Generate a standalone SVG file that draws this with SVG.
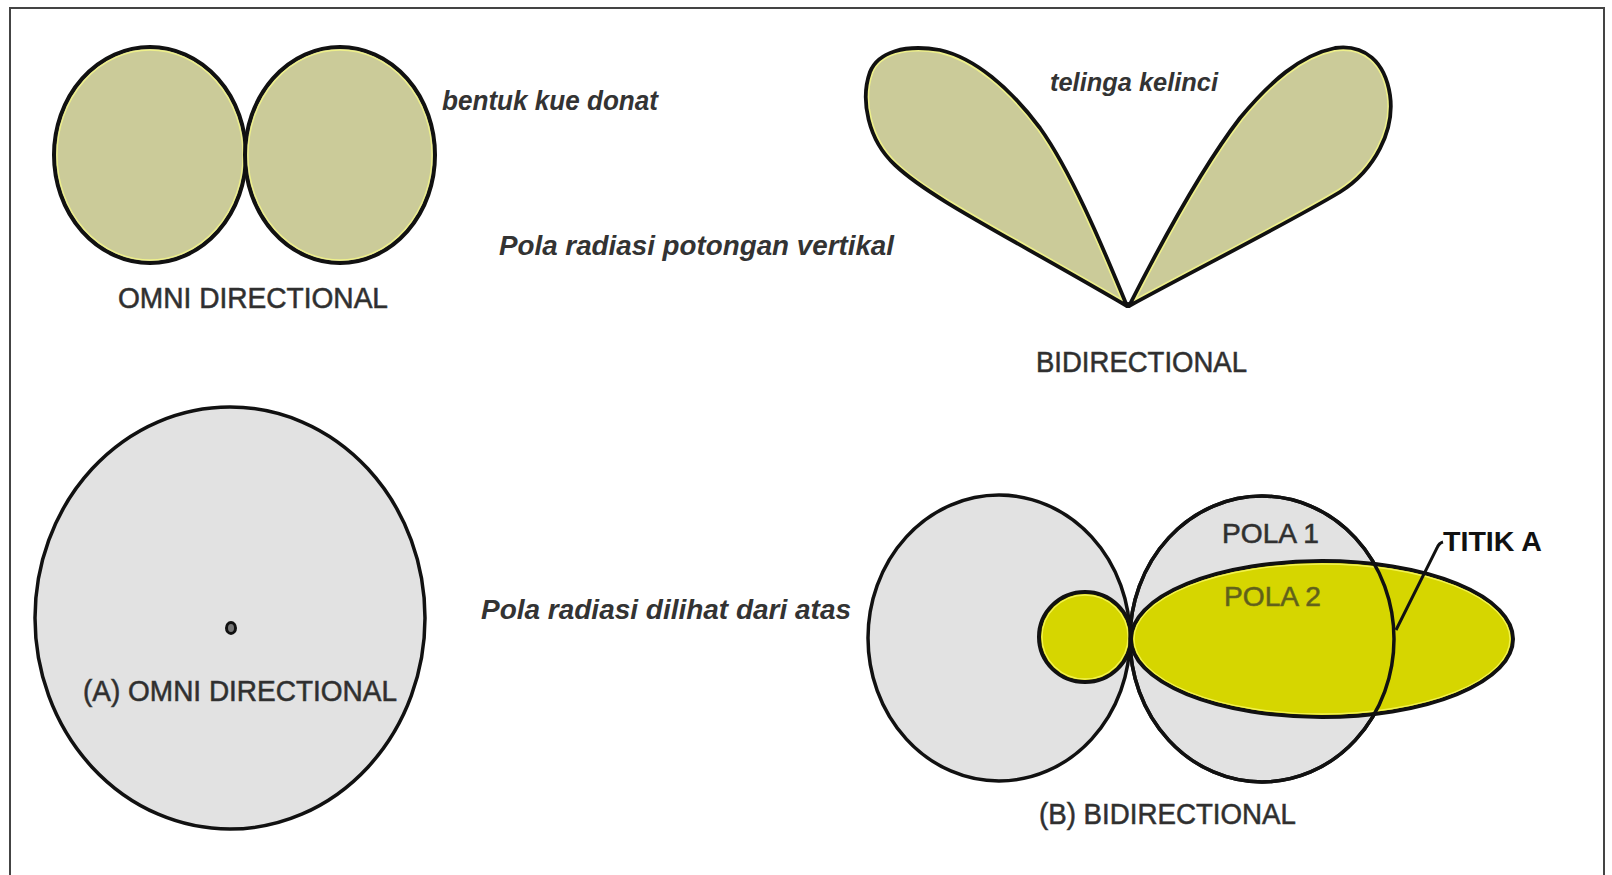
<svg xmlns="http://www.w3.org/2000/svg" width="1612" height="875" viewBox="0 0 1612 875">
<style>
.khaki{fill:#cbcb99;stroke:#111;stroke-width:4}
.hl{fill:none;stroke:#eef08a;stroke-width:1.3}
.gray{fill:#e2e2e2;stroke:#111;stroke-width:3.5}
.yel{fill:#d6d600;stroke:#111;stroke-width:4}
.yhl{fill:none;stroke:#f2f250;stroke-width:1.3}
.lbl{font-family:"Liberation Sans",Arial,sans-serif;fill:#2e2e2e;stroke:#3a3a3a;stroke-width:0.6}
.it{font-family:"Liberation Sans",Arial,sans-serif;font-weight:bold;font-style:italic;fill:#333}
</style>
<defs>
<clipPath id="cl"><path id="earL" d="M1127,306 C1100,240 1070,170 1040,128 C1010,88 975,58 940,50 C905,44 878,52 870,72 C860,100 868,140 895,165 C930,198 1000,232 1127,306 Z"/></clipPath>
<clipPath id="cr"><path id="earR" d="M1129,306 C1160,245 1200,170 1240,118 C1270,82 1300,55 1335,48 C1365,44 1385,62 1390,95 C1395,130 1375,170 1340,192 C1290,222 1210,262 1129,306 Z"/></clipPath>
</defs>
<rect x="0" y="0" width="1612" height="875" fill="#fff"/>
<path d="M10,890 L10,8 L1604,8 L1604,890" fill="none" stroke="#444" stroke-width="2"/>

<g id="donut">
<ellipse class="khaki" cx="150" cy="155" rx="96" ry="108"/>
<ellipse class="hl" cx="150" cy="155" rx="93" ry="105"/>
<ellipse class="khaki" cx="340" cy="155" rx="95" ry="108"/>
<ellipse class="hl" cx="340" cy="155" rx="92" ry="105"/>
</g>
<g id="ears">
<use href="#earL" fill="#cbcb99"/>
<use href="#earL" fill="none" stroke="#eef08a" stroke-width="7" clip-path="url(#cl)"/>
<use href="#earL" fill="none" stroke="#111" stroke-width="3.8" stroke-linejoin="round"/>
<use href="#earR" fill="#cbcb99"/>
<use href="#earR" fill="none" stroke="#eef08a" stroke-width="7" clip-path="url(#cr)"/>
<use href="#earR" fill="none" stroke="#111" stroke-width="3.8" stroke-linejoin="round"/>
<circle cx="1128" cy="305" r="3" fill="#111"/>
</g>
<g id="omni-top-view">
<ellipse class="gray" cx="230" cy="618" rx="195" ry="211"/>
<ellipse cx="231" cy="628" rx="4.5" ry="5.5" fill="#777" stroke="#111" stroke-width="3"/>
</g>
<g id="bidir-top-view">
<ellipse class="gray" cx="999" cy="638" rx="131" ry="143"/>
<ellipse class="gray" cx="1262" cy="639" rx="132" ry="143"/>
<ellipse class="yel" cx="1085" cy="637" rx="46" ry="45"/>
<ellipse class="yhl" cx="1085" cy="637" rx="43" ry="42"/>
<ellipse class="yel" cx="1322" cy="639" rx="191" ry="78"/>
<ellipse class="yhl" cx="1322" cy="639" rx="188" ry="75"/>
<ellipse cx="1262" cy="639" rx="132" ry="143" fill="none" stroke="#111" stroke-width="3.5"/>
</g>
<g id="connectors">
<path d="M1396,630 L1437,548 Q1439,543 1443,542" fill="none" stroke="#111" stroke-width="3"/>
</g>
<g id="labels">
<text class="it" x="442" y="110" font-size="27" textLength="216" lengthAdjust="spacingAndGlyphs">bentuk kue donat</text>
<text class="it" x="1050" y="91" font-size="26" textLength="168" lengthAdjust="spacingAndGlyphs">telinga kelinci</text>
<text class="it" x="499" y="255" font-size="27" textLength="395" lengthAdjust="spacingAndGlyphs">Pola radiasi potongan vertikal</text>
<text class="lbl" x="118" y="308" font-size="30" textLength="270" lengthAdjust="spacingAndGlyphs">OMNI DIRECTIONAL</text>
<text class="lbl" x="1036" y="372" font-size="30" textLength="211" lengthAdjust="spacingAndGlyphs">BIDIRECTIONAL</text>
<text class="it" x="481" y="619" font-size="27" textLength="370" lengthAdjust="spacingAndGlyphs">Pola radiasi dilihat dari atas</text>
<text class="lbl" x="83" y="701" font-size="30" textLength="314" lengthAdjust="spacingAndGlyphs">(A) OMNI DIRECTIONAL</text>
<text class="lbl" x="1039" y="824" font-size="30" textLength="257" lengthAdjust="spacingAndGlyphs">(B) BIDIRECTIONAL</text>
<text class="lbl" x="1222" y="543" font-size="28" textLength="97" lengthAdjust="spacingAndGlyphs">POLA 1</text>
<text class="lbl" x="1224" y="606" font-size="28" textLength="97" lengthAdjust="spacingAndGlyphs" style="fill:#5f5f18;stroke:#6a6a20">POLA 2</text>
<text class="lbl" x="1443" y="551" font-size="27" font-weight="bold" textLength="99" lengthAdjust="spacingAndGlyphs" style="fill:#111;stroke:none">TITIK A</text>
</g>
</svg>
